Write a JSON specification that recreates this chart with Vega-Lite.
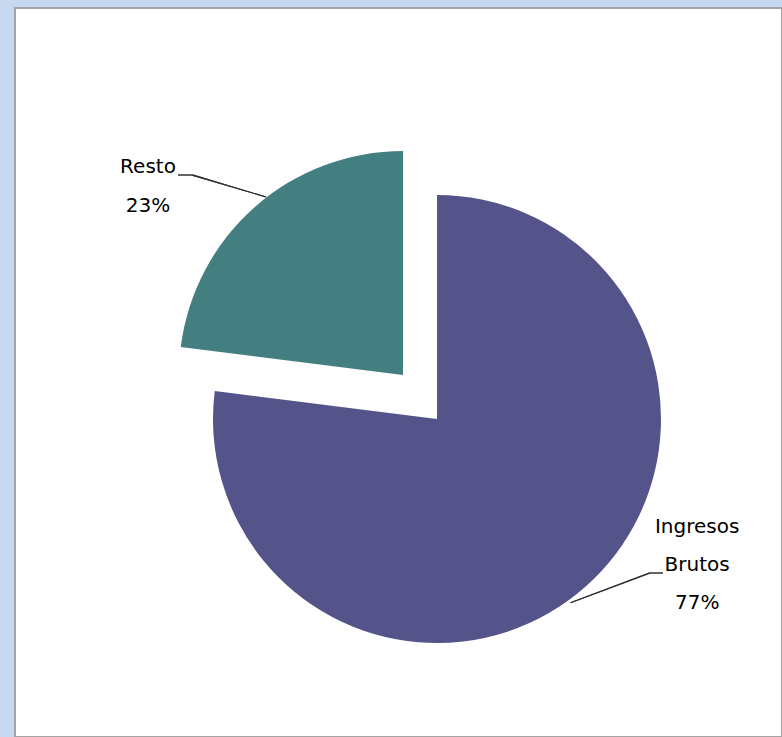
{
  "$schema": "https://vega.github.io/schema/vega-lite/v6.json",
  "width": 767,
  "height": 729,
  "autosize": {"type": "none"},
  "padding": {"left": 15, "top": 8, "right": 0, "bottom": 0},
  "background": "#c6d9f1",
  "data": {
    "values": [
      {"cat": "Ingresos Brutos", "value": 77, "label": "Ingresos\nBrutos\n77%"},
      {"cat": "Resto", "value": 23, "label": "Resto\n23%"}
    ]
  },
  "layer": [
    {
      "mark": {"type": "rect", "fill": "#ffffff", "stroke": "#a3a3a3", "strokeWidth": 2}
    },
    {
      "mark": {"type": "arc", "radius": 224, "xOffset": 38.5, "yOffset": 46.5},
      "encoding": {
        "theta": {"field": "value", "type": "quantitative", "stack": true, "scale": {"domain": [0, 100]}},
        "order": {"field": "cat", "type": "ordinal"},
        "color": {"field": "cat", "type": "nominal", "scale": {"domain": ["Ingresos Brutos", "Resto"], "range": ["#55548a", "#437e80"]}, "legend": null},
        "opacity": {"condition": {"test": "datum.cat === 'Resto'", "value": 0}, "value": 1}
      }
    },
    {
      "mark": {"type": "arc", "radius": 224, "xOffset": 4.5, "yOffset": 2.5},
      "encoding": {
        "theta": {"field": "value", "type": "quantitative", "stack": true, "scale": {"domain": [0, 100]}},
        "order": {"field": "cat", "type": "ordinal"},
        "color": {"field": "cat", "type": "nominal", "scale": {"domain": ["Ingresos Brutos", "Resto"], "range": ["#55548a", "#437e80"]}, "legend": null},
        "opacity": {"condition": {"test": "datum.cat === 'Resto'", "value": 1}, "value": 0}
      }
    },
    {
      "mark": {"type": "text", "radius": 311.5, "xOffset": 4.5, "yOffset": 2.5, "dx": -49, "dy": 32, "font": "DejaVu Sans", "fontSize": 20, "color": "#000000", "lineBreak": "\n", "lineHeight": 39, "align": "center", "baseline": "alphabetic"},
      "encoding": {
        "theta": {"field": "value", "type": "quantitative", "stack": true, "scale": {"domain": [0, 100]}},
        "order": {"field": "cat", "type": "ordinal"},
        "text": {"field": "label", "type": "nominal"},
        "opacity": {"condition": {"test": "datum.cat === 'Resto'", "value": 1}, "value": 0}
      }
    },
    {
      "mark": {"type": "text", "radius": 280, "xOffset": 38.5, "yOffset": 46.5, "dx": 75, "dy": -96, "font": "DejaVu Sans", "fontSize": 20, "color": "#000000", "lineBreak": "\n", "lineHeight": 38, "align": "center", "baseline": "alphabetic"},
      "encoding": {
        "theta": {"field": "value", "type": "quantitative", "stack": true, "scale": {"domain": [0, 100]}},
        "order": {"field": "cat", "type": "ordinal"},
        "text": {"field": "label", "type": "nominal"},
        "opacity": {"condition": {"test": "datum.cat === 'Resto'", "value": 0}, "value": 1}
      }
    },
    {
      "mark": {"type": "arc", "radius": 377, "radius2": 300, "xOffset": 155.1, "yOffset": -90, "color": "#333333"},
      "encoding": {
        "theta": {"datum": 79.57, "scale": {"domain": [0, 100]}},
        "theta2": {"datum": 79.63}
      }
    },
    {
      "mark": {"type": "arc", "radius": 314, "radius2": 300, "xOffset": 93.5, "yOffset": -197.5, "color": "#333333"},
      "encoding": {
        "theta": {"datum": 74.97, "scale": {"domain": [0, 100]}},
        "theta2": {"datum": 75.03}
      }
    },
    {
      "mark": {"type": "arc", "radius": 377, "radius2": 292, "xOffset": -101.4, "yOffset": 332.8, "color": "#333333"},
      "encoding": {
        "theta": {"datum": 19.26, "scale": {"domain": [0, 100]}},
        "theta2": {"datum": 19.32}
      }
    },
    {
      "mark": {"type": "arc", "radius": 313, "radius2": 300, "xOffset": -48.5, "yOffset": 200.5, "color": "#333333"},
      "encoding": {
        "theta": {"datum": 24.97, "scale": {"domain": [0, 100]}},
        "theta2": {"datum": 25.03}
      }
    }
  ]
}
